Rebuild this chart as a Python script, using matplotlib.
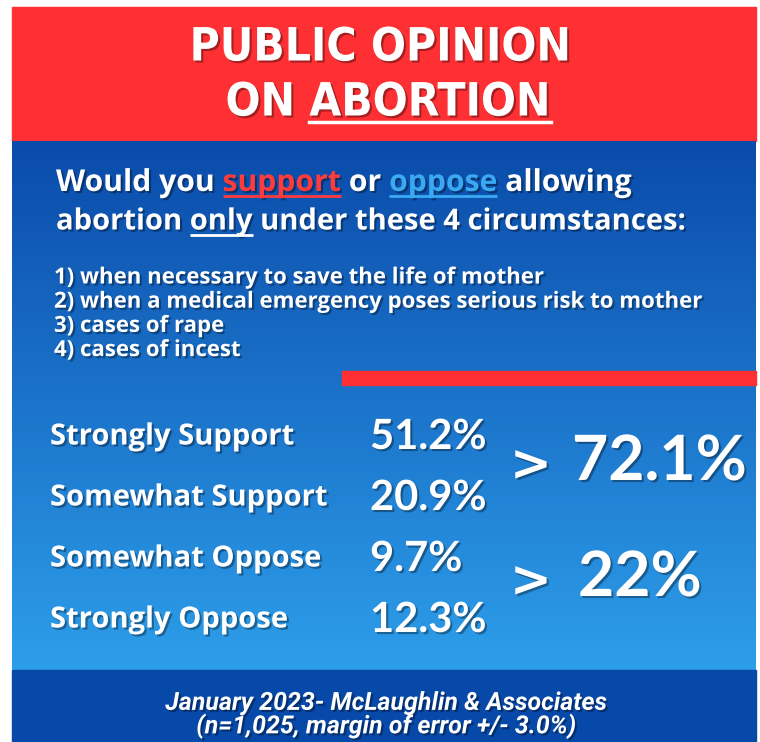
import matplotlib
matplotlib.use("Agg")
import matplotlib.pyplot as plt
import matplotlib.patheffects as pe
import numpy as np

title_lines = ["PUBLIC OPINION", "ON ", "ABORTION"]
question_1 = [("Would you ", "white", False), ("support", "#ff3b3b", True),
              (" or ", "white", False), ("oppose", "#3aa9f2", True),
              (" allowing", "white", False)]
question_2 = [("abortion ", "white", False), ("only", "white", True),
              (" under these 4 circumstances:", "white", False)]
circumstances = ["1) when necessary to save the life of mother",
                 "2) when a medical emergency poses serious risk to mother",
                 "3) cases of rape",
                 "4) cases of incest"]
categories = ["Strongly Support", "Somewhat Support", "Somewhat Oppose", "Strongly Oppose"]
values = [51.2, 20.9, 9.7, 12.3]
value_labels = ["51.2%", "20.9%", "9.7%", "12.3%"]
totals = ["72.1%", "22%"]
footer = ["January 2023- McLaughlin & Associates",
          "(n=1,025, margin of error +/- 3.0%)"]

RED = "#fe3033"
shadow = [pe.withSimplePatchShadow(offset=(1.5, -1.5), shadow_rgbFace="black", alpha=0.35)]
MAIN = ["Open Sans", "DejaVu Sans"]

fig = plt.figure(figsize=(7.6, 7.42), dpi=100)
ax = fig.add_axes([0, 0, 1, 1])
ax.set_xlim(0, 760)
ax.set_ylim(742, 0)
ax.axis("off")
fig.patch.set_facecolor("white")

# background panels
ax.add_patch(plt.Rectangle((12, 7), 744, 134, color=RED, zorder=1))
grad = np.linspace(0, 1, 256).reshape(-1, 1)
top = np.array([0x0a, 0x4b, 0xaa]) / 255
bot = np.array([0x2d, 0x9e, 0xea]) / 255
img = top + (bot - top) * grad[:, :, None]
ax.imshow(img, extent=(12, 756, 670, 141), aspect="auto", zorder=1)
ax.add_patch(plt.Rectangle((12, 670), 744, 72, color="#0749a9", zorder=1))
ax.add_patch(plt.Rectangle((342, 371), 414, 14, color=RED, zorder=2))

fig.canvas.draw()
renderer = fig.canvas.get_renderer()
inv = ax.transData.inverted()


def width_of(t):
    bb = t.get_window_extent(renderer)
    return inv.transform((bb.x0, bb.y0))[0], inv.transform((bb.x1, bb.y0))[0]


def run(parts, x, y, **kw):
    for s, color, underline in parts:
        t = ax.text(x, y, s, color=color, va="center", ha="left", zorder=3,
                    path_effects=shadow, **kw)
        x0, x1 = width_of(t)
        if underline:
            ax.plot([x0, x1], [y + kw.get("fontsize", 20) * 0.62] * 2,
                    color=color, lw=2, zorder=3, solid_capstyle="butt")
        x = x1


# title
tfont = dict(family="DejaVu Sans", fontstretch="condensed", fontweight="bold",
             fontsize=33, color="white", zorder=3, path_effects=shadow)
ax.text(380, 48, title_lines[0], ha="center", va="center", **tfont)
t1 = ax.text(0, 103, title_lines[1], ha="left", va="center", **tfont)
t2 = ax.text(0, 103, title_lines[2], ha="left", va="center", **tfont)
w1 = np.subtract(*width_of(t1)[::-1])
w2 = np.subtract(*width_of(t2)[::-1])
xs = 388 - (w1 + w2) / 2
t1.set_x(xs)
t2.set_x(xs + w1)
ax.plot([xs + w1, xs + w1 + w2], [122, 122], color="white", lw=2.5, zorder=3)

# question
run(question_1, 56, 183, family=MAIN, fontweight="bold", fontsize=21.7)
run(question_2, 56, 222, family=MAIN, fontweight="bold", fontsize=21)

for i, line in enumerate(circumstances):
    ax.text(54, 278 + i * 24.2, line, color="white", fontsize=16, fontweight="bold",
            family=MAIN, va="center", zorder=3, path_effects=shadow)

# results
rows_y = [437, 498, 559, 620]
for y, cat, lab in zip(rows_y, categories, value_labels):
    ax.text(50, y, cat, color="white", fontsize=21, fontweight="bold",
            family=MAIN, va="center", zorder=3, path_effects=shadow)
    ax.text(370, y, lab, color="white", fontsize=30, fontweight="bold",
            family=["Lato", "DejaVu Sans"], va="center", zorder=3, path_effects=shadow)

for y, x, tot in zip([462, 578], [572, 578], totals):
    ax.text(510, y + 4, ">", color="white", fontsize=36, fontweight="bold",
            family="DejaVu Sans", va="center", zorder=3, path_effects=shadow)
    ax.text(x, y, tot, color="white", fontsize=45, fontweight="bold",
            family=["Lato", "DejaVu Sans"], va="center", zorder=3, path_effects=shadow)

# footer
ax.text(386, 715, "\n".join(footer), color="white", fontsize=18, fontstyle="italic",
        fontweight="bold", family=["Roboto", "DejaVu Sans"], ha="center", va="center",
        linespacing=0.9, zorder=3, path_effects=shadow)

fig.savefig("out.png", dpi=100)
